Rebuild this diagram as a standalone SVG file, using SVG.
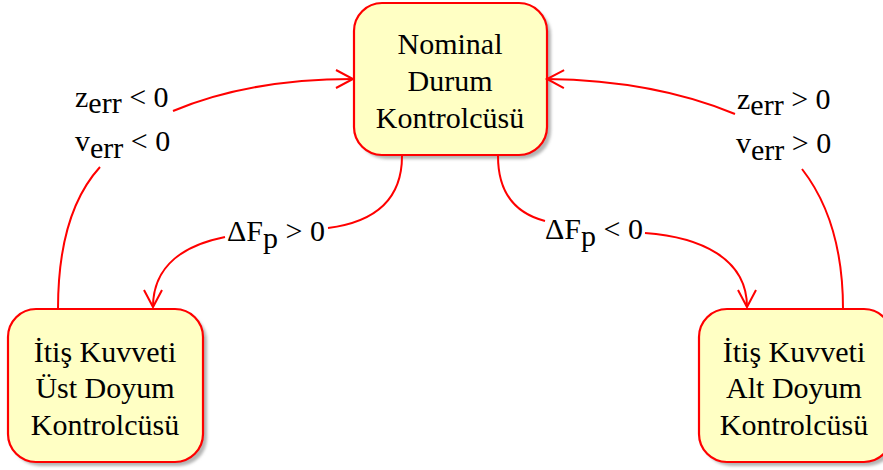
<svg xmlns="http://www.w3.org/2000/svg" width="883" height="470" viewBox="0 0 883 470">
<defs>
<filter id="blur" x="-10%" y="-10%" width="120%" height="120%"><feGaussianBlur stdDeviation="1.5"/></filter>
<marker id="arr" markerUnits="userSpaceOnUse" markerWidth="24" markerHeight="24" viewBox="-20 -12 24 24" refX="0" refY="0" orient="auto">
<path d="M-17,-9 L0,0 L-17,9" fill="none" stroke="#ff0000" stroke-width="2"/>
</marker>
</defs>
<style>
.box{fill:#ffffc4;stroke:#ff0000;stroke-width:2.2}
.sh{fill:#b4b4b4;filter:url(#blur)}
.t{font-family:"Liberation Serif","Times New Roman",serif;font-size:30px;fill:#000}
.c{text-anchor:middle}
.e{fill:none;stroke:#ff0000;stroke-width:2}
</style>
<rect width="883" height="470" fill="#ffffff"/>
<g id="nominal">
<rect class="sh" x="358" y="7" width="193" height="152" rx="28"/>
<rect class="box" x="354" y="3" width="193" height="152" rx="28"/>
<text class="t c" x="450" y="54">Nominal</text>
<text class="t c" x="450" y="91">Durum</text>
<text class="t c" x="450" y="128">Kontrolcüsü</text>
</g>
<g id="ust">
<rect class="sh" x="12" y="313" width="195" height="153" rx="28"/>
<rect class="box" x="8" y="309" width="195" height="153" rx="28"/>
<text class="t c" x="105" y="362">İtiş Kuvveti</text>
<text class="t c" x="105" y="398">Üst Doyum</text>
<text class="t c" x="105" y="435">Kontrolcüsü</text>
</g>
<g id="alt">
<rect class="sh" x="703" y="313" width="193" height="153" rx="28"/>
<rect class="box" x="699" y="309" width="193" height="153" rx="28"/>
<text class="t c" x="794" y="362">İtiş Kuvveti</text>
<text class="t c" x="794" y="398">Alt Doyum</text>
<text class="t c" x="794" y="435">Kontrolcüsü</text>
</g>
<g id="connectors">
<path class="e" d="M58,309 C58,250 70,200 100,167"/>
<path class="e" d="M173,111 C230,87 290,79 353,79" marker-end="url(#arr)"/>
<path class="e" d="M843,309 C843,250 830,205 802,169"/>
<path class="e" d="M735,114 C680,91 620,80 547,79" marker-end="url(#arr)"/>
<path class="e" d="M402,156 C402,200 375,222 328,228"/>
<path class="e" d="M225,237 C185,245 153,265 153,307" marker-end="url(#arr)"/>
<path class="e" d="M498,156 C498,195 518,214 545,221"/>
<path class="e" d="M645,233 C700,237 747,258 747,307" marker-end="url(#arr)"/>
</g>
<g id="labels">
<text class="t" x="75" y="107">z<tspan dy="6">err</tspan><tspan dy="-6"> &lt; 0</tspan></text>
<text class="t" x="75" y="151">v<tspan dy="7">err</tspan><tspan dy="-7"> &lt; 0</tspan></text>
<text class="t" x="737" y="109">z<tspan dy="6">err</tspan><tspan dy="-6"> &gt; 0</tspan></text>
<text class="t" x="736" y="153">v<tspan dy="7">err</tspan><tspan dy="-7"> &gt; 0</tspan></text>
<text class="t" x="227" y="241">ΔF<tspan dy="7">p</tspan><tspan dy="-7"> &gt; 0</tspan></text>
<text class="t" x="545" y="239">ΔF<tspan dy="7">p</tspan><tspan dy="-7"> &lt; 0</tspan></text>
</g>
</svg>
